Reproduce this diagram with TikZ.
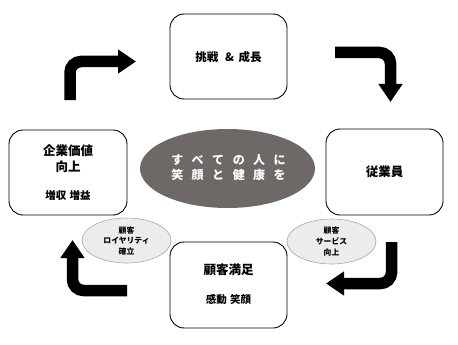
\documentclass[tikz,border=0pt]{standalone}
\usepackage{fontspec}
\setmainfont{Noto Sans CJK JP}
\usetikzlibrary{arrows.meta,shapes.geometric}
\definecolor{ellgray}{HTML}{6E6967}
\definecolor{smallfill}{HTML}{ECECEC}
\definecolor{smallline}{HTML}{A8A8A8}
\begin{document}
\begin{tikzpicture}[x=1pt,y=-1pt,
  box/.style={draw=black,line width=0.9pt,rounded corners=14pt,fill=white},
  bigarrow/.style={line width=11.5pt,rounded corners=11pt,-{Triangle[length=18pt,width=23pt]}},
  tl/.style={font=\fontsize{12.5}{14}\selectfont\bfseries,inner sep=0pt},
  ts/.style={font=\fontsize{10.5}{12}\selectfont\bfseries,inner sep=0pt},
  tiny/.style={font=\fontsize{7.8}{10.8}\selectfont\bfseries,align=center,inner sep=0pt}]
\useasboundingbox (0,0) rectangle (458,345);
\fill[white] (0,0) rectangle (458,345);
% boxes
\draw[box] (170,14) rectangle (287,99);
\draw[box] (9,130) rectangle (127,215);
\draw[box] (326,129) rectangle (443,215);
\draw[box] (170,242) rectangle (287,328);
\node[font=\fontsize{11.5}{14}\selectfont\bfseries,inner sep=0pt] (top) at (228.5,57) {挑戦\hspace{0.6em}\&\hspace{0.4em}成長};
\node[tl] (l1) at (68,151) {企業価値};
\node[tl] (l2) at (68,166.5) {向上};
\node[ts] (l3) at (68,195) {増収\hspace{0.3em}増益};
\node[tl] (r1) at (384.5,172) {従業員};
\node[tl] (b1) at (228.5,270) {顧客満足};
\node[ts] (b2) at (228.5,299) {感動\hspace{0.3em}笑顔};
% central ellipse
\node[ellipse,fill=ellgray,minimum width=175pt,minimum height=79pt,inner sep=0pt] (center) at (227.5,168.5) {};
\node[font=\fontsize{12}{15}\selectfont\bfseries,text=white,align=center,inner sep=0pt] (ctext) at (228.5,168) {す\hspace{8.5pt}べ\hspace{8.5pt}て\hspace{8.5pt}の\hspace{8.5pt}人\hspace{8.5pt}に\\笑\hspace{8.5pt}顔\hspace{8.5pt}と\hspace{8.5pt}健\hspace{8.5pt}康\hspace{8.5pt}を};
% small ellipses
\node[ellipse,draw=smallline,fill=smallfill,line width=0.6pt,minimum width=89pt,minimum height=45pt,inner sep=0pt] (sl) at (126.5,240.5) {};
\node[tiny] (slt) at (126.5,241) {顧客\\ロイヤリティ\\確立};
\node[ellipse,draw=smallline,fill=smallfill,line width=0.6pt,minimum width=89pt,minimum height=45pt,inner sep=0pt] (sr) at (331.5,241.5) {};
\node[tiny] (srt) at (331.5,241.5) {顧客\\サービス\\向上};
% big arrows
\coordinate (a1s) at (70,100);
\coordinate (a1c) at (70,61.5);
\coordinate (a1e) at (136,61.5);
\draw[bigarrow] (a1s) -- (a1c) -- (a1e);
\coordinate (a2s) at (335,52.5);
\coordinate (a2c) at (390.5,52.5);
\coordinate (a2e) at (390.5,102);
\draw[bigarrow] (a2s) -- (a2c) -- (a2e);
\coordinate (a3s) at (391.5,242);
\coordinate (a3c) at (391.5,283.5);
\coordinate (a3e) at (326,283.5);
\draw[bigarrow] (a3s) -- (a3c) -- (a3e);
\coordinate (a4s) at (127,290.5);
\coordinate (a4c) at (72.5,290.5);
\coordinate (a4e) at (72.5,240);
\draw[bigarrow] (a4s) -- (a4c) -- (a4e);
\end{tikzpicture}
\end{document}
